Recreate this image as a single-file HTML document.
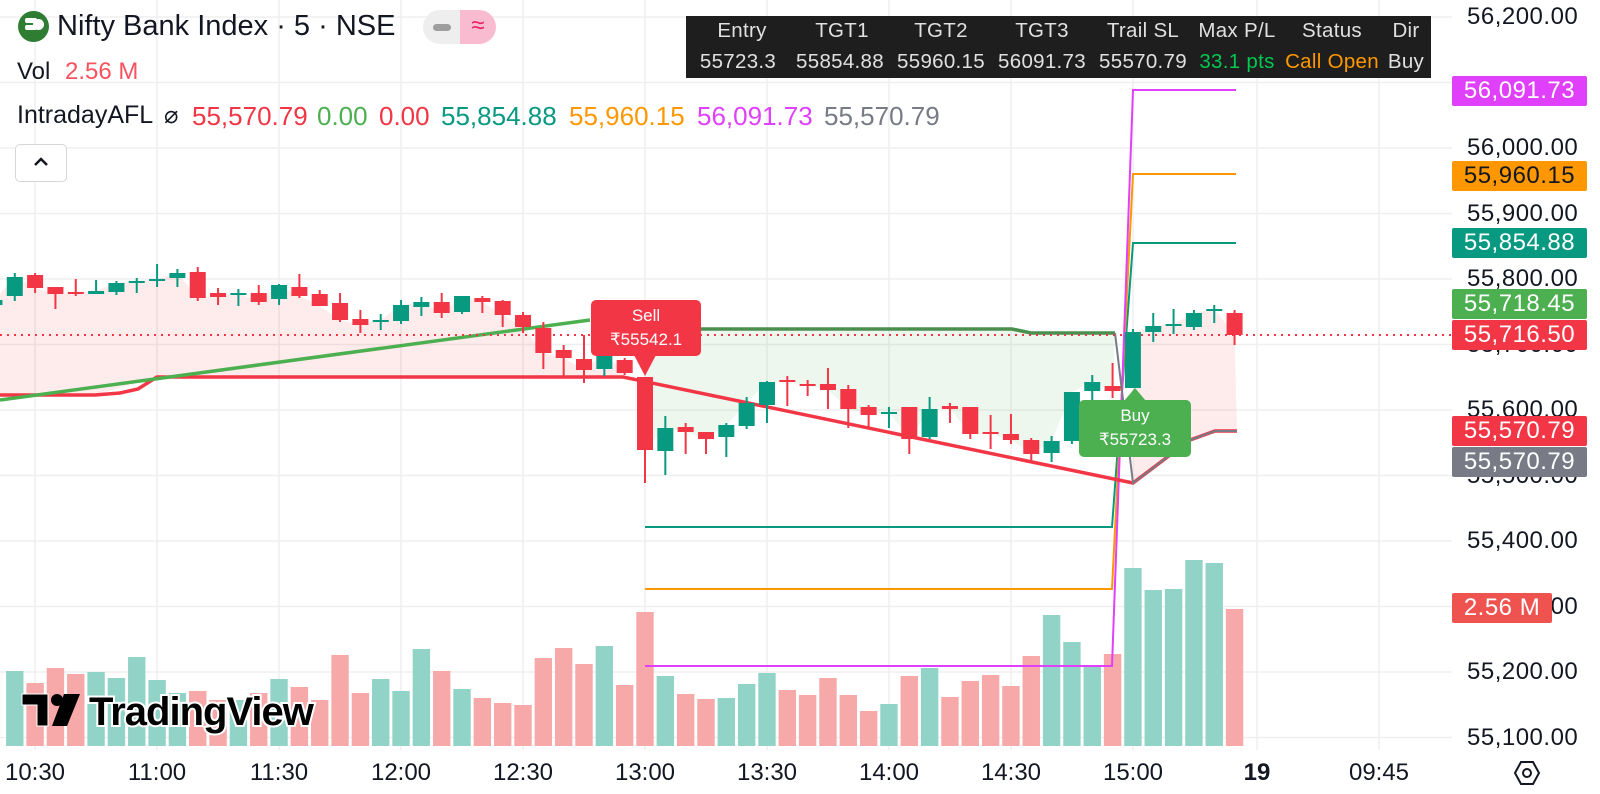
<!DOCTYPE html>
<html><head><meta charset="utf-8">
<style>
body{margin:0;width:1600px;height:794px;overflow:hidden;background:#fff;font-family:"Liberation Sans",sans-serif;position:relative}
.a{position:absolute;white-space:nowrap}
.ax{position:absolute;left:1467px;font-size:24px;color:#131722;line-height:30px;letter-spacing:0.5px}
.bx{position:absolute;left:1452px;width:135px;height:30px;line-height:30px;font-size:24px;color:#fff;text-align:center;border-radius:2px;letter-spacing:0.5px}
.tl{position:absolute;top:759px;font-size:24px;color:#131722;width:90px;margin-left:-45px;text-align:center;line-height:28px}
.th,.tv{position:absolute;font-size:20.5px;width:120px;margin-left:-60px;text-align:center;color:#e0e0e0;letter-spacing:0.3px}
.th{top:19px}.tv{top:50px}
.iv{position:absolute;top:101px;font-size:26px}
</style></head><body>
<svg id="s" width="1600" height="794" style="position:absolute;left:0;top:0"></svg>

<!-- header -->
<div class="a" style="left:18px;top:11px;width:31px;height:31px;border-radius:50%;background:#2e7d32"></div>
<div class="a" style="left:25px;top:18px;width:12px;height:5px;background:#fff;border-radius:2px"></div>
<div class="a" style="left:25px;top:25px;width:12px;height:5px;background:#fff;border-radius:2px"></div>
<div class="a" style="left:33px;top:19px;width:11px;height:11px;border-radius:50%;background:#fff"></div>
<div class="a" style="left:57px;top:10px;font-size:29px;color:#131722">Nifty Bank Index · 5 · NSE</div>
<div class="a" style="left:423px;top:10px;width:37px;height:34px;background:#eee;border-radius:17px 0 0 17px"></div>
<div class="a" style="left:433px;top:24px;width:18px;height:7px;background:#9e9e9e;border-radius:4px"></div>
<div class="a" style="left:460px;top:10px;width:36px;height:34px;background:#f8bbd0;border-radius:0 17px 17px 0;color:#e91e63;font-size:24px;text-align:center;line-height:32px">≈</div>
<div class="a" style="left:17px;top:58px;font-size:24px;color:#131722">Vol <span style="color:#f7525f;margin-left:8px">2.56 M</span></div>
<div class="a iv" style="left:17px;color:#131722;font-size:25px">IntradayAFL</div>
<div class="a iv" style="left:164px;color:#131722;font-size:24px">⌀</div>
<div class="a iv" style="left:192px;color:#f23645">55,570.79</div>
<div class="a iv" style="left:317px;color:#4caf50">0.00</div>
<div class="a iv" style="left:379px;color:#f23645">0.00</div>
<div class="a iv" style="left:441px;color:#089981">55,854.88</div>
<div class="a iv" style="left:569px;color:#ff9800">55,960.15</div>
<div class="a iv" style="left:697px;color:#e040fb">56,091.73</div>
<div class="a iv" style="left:824px;color:#787b86">55,570.79</div>
<div class="a" style="left:15px;top:144px;width:50px;height:36px;border:1px solid #d6d6d6;border-radius:5px;background:#fff"></div>
<svg class="a" style="left:33px;top:156px" width="16" height="12"><polyline points="2,9 8,3 14,9" fill="none" stroke="#131722" stroke-width="2.5"/></svg>

<!-- table -->
<div class="a" style="left:686px;top:16px;width:745px;height:62px;background:#1e1e1e"></div>
<div class="th" style="left:742px">Entry</div><div class="th" style="left:842px">TGT1</div><div class="th" style="left:941px">TGT2</div><div class="th" style="left:1042px">TGT3</div><div class="th" style="left:1143px">Trail SL</div><div class="th" style="left:1237px">Max P/L</div><div class="th" style="left:1332px">Status</div><div class="th" style="left:1406px">Dir</div>
<div class="tv" style="left:738px">55723.3</div><div class="tv" style="left:840px">55854.88</div><div class="tv" style="left:941px">55960.15</div><div class="tv" style="left:1042px">56091.73</div><div class="tv" style="left:1143px">55570.79</div><div class="tv" style="left:1237px;color:#00c853">33.1 pts</div><div class="tv" style="left:1332px;color:#ff9800">Call Open</div><div class="tv" style="left:1406px">Buy</div>

<!-- axis labels -->
<div id="axl"></div>
<div class="bx" style="top:76px;background:#e040fb">56,091.73</div>
<div class="bx" style="top:161px;background:#ff9800;color:#131722">55,960.15</div>
<div class="bx" style="top:228px;background:#089981">55,854.88</div>
<div class="bx" style="top:289px;background:#4caf50">55,718.45</div>
<div class="bx" style="top:320px;background:#f23645">55,716.50</div>
<div class="bx" style="top:416px;background:#f23645">55,570.79</div>
<div class="bx" style="top:447px;background:#787b86">55,570.79</div>
<div class="bx" style="top:593px;width:100px;background:#ef5350">2.56 M</div>

<div class="tl" style="left:35px">10:30</div><div class="tl" style="left:157px">11:00</div><div class="tl" style="left:279px">11:30</div><div class="tl" style="left:401px">12:00</div><div class="tl" style="left:523px">12:30</div><div class="tl" style="left:645px">13:00</div><div class="tl" style="left:767px">13:30</div><div class="tl" style="left:889px">14:00</div><div class="tl" style="left:1011px">14:30</div><div class="tl" style="left:1133px">15:00</div><div class="tl" style="left:1257px;font-weight:bold">19</div><div class="tl" style="left:1379px">09:45</div>

<!-- labels -->
<div class="a" style="left:591px;top:300px;width:110px;height:56px;background:#f23645;border-radius:5px;color:#fff;font-size:17px;text-align:center;line-height:24px;padding-top:4px;box-sizing:border-box">Sell<br>₹55542.1</div>
<div class="a" style="left:1079px;top:400px;width:112px;height:57px;background:#4caf50;border-radius:5px;color:#fff;font-size:17px;text-align:center;line-height:24px;padding-top:4px;box-sizing:border-box">Buy<br>₹55723.3</div>

<!-- logo -->
<svg class="a" style="left:20px;top:688px" width="320" height="48">
<path d="M2 6 H28 V38 H17 V17 H2 Z" fill="#000" stroke="#fff" stroke-width="1"/><circle cx="37" cy="12" r="6" fill="#000"/><path d="M44 6 H60 L47 38 H32 Z" fill="#000"/>
<text x="69" y="37" font-family="Liberation Sans" font-weight="bold" font-size="40" fill="#000" stroke="#fff" stroke-width="4" paint-order="stroke" letter-spacing="-1">TradingView</text>
</svg>

<script>
const S=document.getElementById('s');let h='';
const yp=p=>541-(p-55400)*0.655;
for(let p=55100;p<=56200;p+=100){const y=yp(p);h+=`<line x1="0" x2="1452" y1="${y}" y2="${y}" stroke="#efefef" stroke-width="1.5"/>`;}
[35,157,279,401,523,645,767,889,1011,1133,1257,1379].forEach(x=>h+=`<line x1="${x}" x2="${x}" y1="0" y2="750" stroke="#efefef" stroke-width="1.5"/>`);
let ax='';for(let p=55100;p<=56200;p+=100){if(p==56100)continue;ax+=`<div class="ax" style="top:${yp(p)-15}px">${(p/1000).toFixed(3).replace('.',',')}.00</div>`;}
document.getElementById('axl').innerHTML=ax;
const X=n=>645+20.33*n;
const C=[[-32,'g',300,305,296,310],[-31,'g',277,296,273,301],[-30,'r',275,288,273,293],[-29,'r',287,294,287,309],[-28,'r',292,294,279,296],[-27,'g',291,294,280,294],[-26,'g',283,292,281,295],[-25,'g',281,283,278,293],[-24,'g',279,281,264,287],[-23,'g',273,278,269,287],[-22,'r',272,298,267,301],[-21,'r',293,297,288,305],[-20,'g',293,295,289,306],[-19,'r',293,302,285,305],[-18,'g',285,299,284,305],[-17,'r',287,296,274,298],[-16,'r',294,306,290,306],[-15,'r',303,320,293,322],[-14,'r',319,325,310,333],[-13,'g',320,322,314,330],[-12,'g',305,321,300,324],[-11,'g',302,307,297,316],[-10,'r',302,313,293,318],[-9,'g',296,312,296,314],[-8,'r',298,302,296,313],[-7,'r',301,315,300,327],[-6,'r',315,327,312,333],[-5,'r',328,353,322,369],[-4,'r',350,358,345,377],[-3,'r',359,370,335,383],[-2,'g',353,369,347,376],[-1,'r',360,373,358,375],[0,'r',377,450,377,483],[1,'g',428,451,416,475],[2,'r',427,432,423,454],[3,'r',432,439,432,454],[4,'g',425,437,423,457],[5,'g',403,426,397,429],[6,'g',382,405,381,423],[7,'r',380,382,376,406],[8,'r',384,386,380,396],[9,'r',384,390,368,409],[10,'r',389,409,385,428],[11,'r',407,415,405,427],[12,'g',412,414,407,428],[13,'r',407,439,407,454],[14,'g',409,437,397,439],[15,'r',406,409,403,423],[16,'r',407,434,407,439],[17,'r',432,434,415,449],[18,'r',434,440,414,444],[19,'r',440,454,438,461],[20,'g',441,453,436,462],[21,'g',392,441,392,444],[22,'g',382,391,375,412],[23,'r',386,391,363,398],[24,'g',332,388,329,388],[25,'g',326,332,313,342],[26,'g',324,326,309,334],[27,'g',313,327,310,330],[28,'g',309,311,305,323],[29,'r',313,335,310,345]];
const cl=c=>c[1]=='r'?c[3]:c[2];
const V=[[-31,'g',671],[-30,'r',683],[-29,'r',668],[-28,'r',674],[-27,'g',672],[-26,'g',678],[-25,'g',657],[-24,'g',680],[-23,'g',693],[-22,'r',691],[-21,'r',700],[-20,'g',700],[-19,'r',693],[-18,'g',679],[-17,'r',687],[-16,'r',700],[-15,'r',655],[-14,'r',693],[-13,'g',679],[-12,'g',691],[-11,'g',649],[-10,'r',671],[-9,'g',689],[-8,'r',698],[-7,'r',703],[-6,'r',705],[-5,'r',658],[-4,'r',648],[-3,'r',664],[-2,'g',646],[-1,'r',685],[0,'r',612],[1,'g',676],[2,'r',694],[3,'r',699],[4,'g',698],[5,'g',684],[6,'g',673],[7,'r',690],[8,'r',695],[9,'r',678],[10,'r',695],[11,'r',711],[12,'g',704],[13,'r',676],[14,'g',668],[15,'r',697],[16,'r',681],[17,'r',675],[18,'r',686],[19,'r',656],[20,'g',615],[21,'g',642],[22,'g',666],[23,'r',654],[24,'g',568],[25,'g',590],[26,'g',589],[27,'g',560],[28,'g',563],[29,'r',609]];
V.forEach(v=>{h+=`<rect x="${X(v[0])-8.7}" y="${v[2]}" width="17.4" height="${746-v[2]}" fill="${v[1]=='g'?'#92d3c8':'#f7a8a8'}"/>`;});
const redY=x=>x<95?395:x<157?395-(x-95)/62*18:x<623?377:377+(x-623)*0.208;
let pts=C.filter(c=>c[0]<0).map(c=>[X(c[0]),cl(c)]);pts.unshift([0,300]);
let pg=pts.map(p=>p.join(',')).join(' ');
for(let i=pts.length-1;i>=0;i--)pg+=` ${pts[i][0]},${redY(pts[i][0])}`;
h+=`<polygon points="${pg}" fill="rgba(242,54,69,0.1)"/>`;
let g=C.filter(c=>c[0]>=0&&c[0]<=23).map(c=>[X(c[0]),cl(c)]);
let gp=g.map(p=>p.join(',')).join(' ')+` 1115,333 1031,333 1012,329 645,329`;
h+=`<polygon points="${gp}" fill="rgba(76,175,80,0.1)"/>`;
let r=C.filter(c=>c[0]>=24).map(c=>[X(c[0]),cl(c)]);
let rp=r.map(p=>p.join(',')).join(' ')+` 1237,431 1215,431 1190,440 1133,483`;
h+=`<polygon points="${rp}" fill="rgba(242,54,69,0.1)"/>`;
h+=`<polyline points="645,527 1112,527 1133,243 1236,243" fill="none" stroke="#089981" stroke-width="2"/>`;
h+=`<polyline points="645,589 1112,589 1133,174 1236,174" fill="none" stroke="#ff9800" stroke-width="2"/>`;
h+=`<polyline points="645,666 1112,666 1133,90 1236,90" fill="none" stroke="#e040fb" stroke-width="2"/>`;
h+=`<polyline points="0,395 95,395 120,393 138,389 157,377 623,377 1133,483 1190,440 1215,431 1237,431" fill="none" stroke="#f23645" stroke-width="3.5"/>`;
h+=`<polyline points="0,400 590,320" fill="none" stroke="#4caf50" stroke-width="3.5"/>`;
h+=`<polyline points="600,329 1012,329 1031,333 1115,333" fill="none" stroke="#4a8f4e" stroke-width="3.5"/>`;
h+=`<polyline points="1115,333 1133,483 1190,440 1215,431 1237,431" fill="none" stroke="#787b86" stroke-width="2"/>`;
h+=`<line x1="0" x2="1452" y1="335" y2="335" stroke="#f23645" stroke-width="2" stroke-dasharray="2 5"/>`;
C.forEach(c=>{const x=X(c[0]),col=c[1]=='g'?'#089981':'#f23645';
h+=`<line x1="${x}" x2="${x}" y1="${c[4]}" y2="${c[5]}" stroke="${col}" stroke-width="2"/>`;
h+=`<rect x="${x-8}" y="${c[2]}" width="16" height="${Math.max(2,c[3]-c[2])}" fill="${col}"/>`;});
h+=`<polygon points="634,355 656,355 645,376" fill="#f23645"/><polygon points="1124,401 1146,401 1135,388" fill="#4caf50"/>`;
h+=`<polygon points="1515,773 1521,762 1533,762 1539,773 1533,784 1521,784" fill="none" stroke="#131722" stroke-width="2"/><circle cx="1527" cy="773" r="4" fill="none" stroke="#131722" stroke-width="2"/>`;
S.innerHTML=h;
</script>
</body></html>
